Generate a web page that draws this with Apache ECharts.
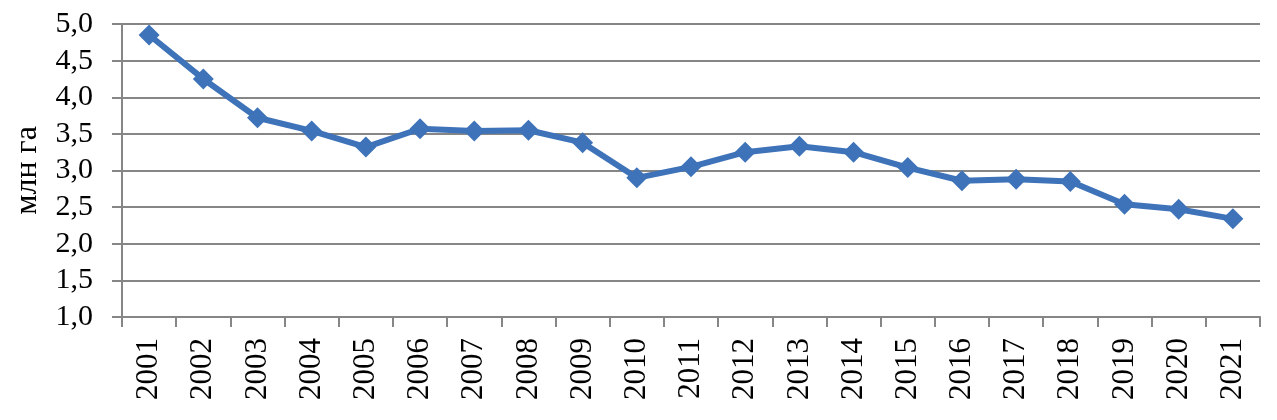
<!DOCTYPE html>
<html><head><meta charset="utf-8">
<script src="https://cdn.jsdelivr.net/npm/echarts@6/dist/echarts.min.js"></script>
<style>html,body{margin:0;padding:0;background:#fff}#c{width:1277px;height:420px}</style>
</head><body><div id="c"></div>
<script>
const categories = ['2001','2002','2003','2004','2005','2006','2007','2008','2009','2010','2011','2012','2013','2014','2015','2016','2017','2018','2019','2020','2021'];
const values = [4.85,4.25,3.72,3.54,3.32,3.57,3.54,3.55,3.38,2.90,3.05,3.25,3.33,3.25,3.04,2.86,2.88,2.85,2.54,2.47,2.34];
const yAxisName = 'млн га';
const yMin = 1.0, yMax = 5.0, yStep = 0.5;

const gray = '#868686';
const chart = echarts.init(document.getElementById('c'));
chart.setOption({
  animation: false,
  grid: {left: 122, right: 17, top: 24, bottom: 103},
  xAxis: {
    type: 'category', data: categories, boundaryGap: true,
    axisLine: {lineStyle: {color: gray, width: 2}},
    axisTick: {show: true, interval: 0, length: 10, lineStyle: {color: gray, width: 2}},
    axisLabel: {rotate: 90, interval: 0, margin: 21, color: '#000', fontFamily: 'Liberation Serif', fontSize: 31}
  },
  yAxis: {
    type: 'value', min: yMin, max: yMax, interval: yStep,
    name: yAxisName, nameLocation: 'middle', nameGap: 78, nameRotate: 90,
    nameTextStyle: {color: '#000', fontFamily: 'Liberation Serif', fontSize: 32},
    axisLine: {show: true, lineStyle: {color: gray, width: 2}},
    axisTick: {show: true, length: 10, lineStyle: {color: gray, width: 2}},
    splitLine: {lineStyle: {color: gray, width: 2}},
    axisLabel: {margin: 29, color: '#000', fontFamily: 'Liberation Serif', fontSize: 30,
      formatter: v => v.toFixed(1).replace('.', ',')}
  },
  series: [{
    type: 'line', data: values, symbol: 'diamond', symbolSize: 21,
    lineStyle: {color: '#3E73B9', width: 6},
    itemStyle: {color: '#3E73B9'}
  }]
});
</script></body></html>
